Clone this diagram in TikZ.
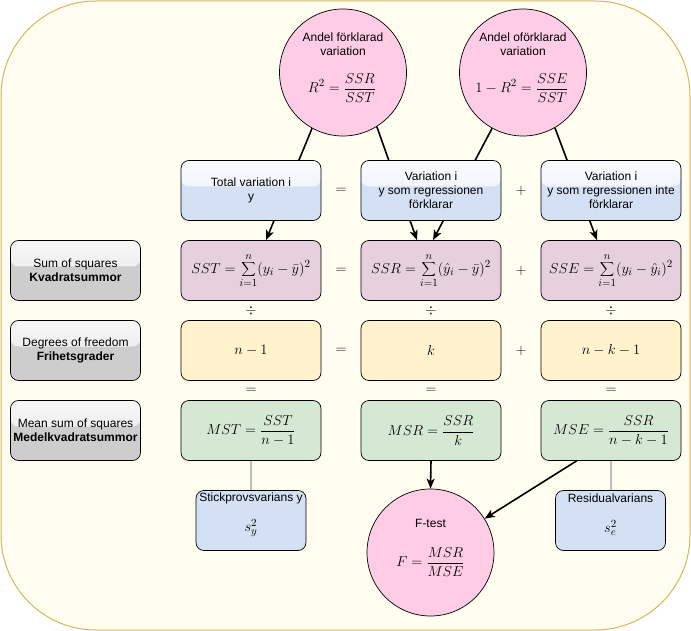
\documentclass[tikz,border=0pt]{standalone}
\usepackage{fontspec}
\setmainfont{Liberation Sans}
\usetikzlibrary{arrows.meta,calc}

\definecolor{bgfill}{HTML}{FFFDF0}
\definecolor{bgline}{HTML}{D6B656}
\definecolor{pinkfill}{HTML}{FFCCE6}
\definecolor{bluefill}{HTML}{D4E1F5}
\definecolor{purplefill}{HTML}{E6D0DE}
\definecolor{yellowfill}{HTML}{FFF2CC}
\definecolor{greenfill}{HTML}{D5E8D4}
\definecolor{greyfill}{HTML}{CDCDCD}
\definecolor{linkgrey}{HTML}{BDBDBD}
\definecolor{optext}{HTML}{111111}

\begin{document}
\begin{tikzpicture}[x=1pt,y=-1pt,
  txt/.style={font=\fontsize{12}{14}\selectfont, align=center, inner sep=0pt},
  mathtxt/.style={font=\fontsize{15}{18}\selectfont, inner sep=0pt},
  optxt/.style={font=\fontsize{14}{16}\selectfont, text=optext, inner sep=0pt},
  cell/.style={rectangle, rounded corners=8pt, draw=black, line width=0.7pt,
    minimum width=140pt, minimum height=60pt, inner sep=0pt, align=center},
  sumbox/.style={cell, fill=purplefill, font=\fontsize{15}{18}\selectfont},
  dfbox/.style={cell, fill=yellowfill, font=\fontsize{15}{18}\selectfont},
  meanbox/.style={cell, fill=greenfill, font=\fontsize{15}{18}\selectfont},
  glassbox/.style={cell, fill=#1, font=\fontsize{12}{14}\selectfont,
    path picture={\shade[top color=white!85!#1, bottom color=white!45!#1]
      (path picture bounding box.north west) rectangle
      ($(path picture bounding box.north east)+(0,-26pt)$);}},
  headbox/.style={glassbox=bluefill},
  rowlabel/.style={glassbox=greyfill, minimum width=130pt},
  smallbox/.style={cell, fill=bluefill, minimum width=110pt},
  circ/.style={circle, draw=black, line width=0.7pt, fill=pinkfill,
    minimum size=127pt, inner sep=0pt},
  arr/.style={line width=1.6pt, -{Stealth[length=10pt,width=8pt,inset=2.5pt]}},
  greylink/.style={line width=2pt, draw=linkgrey}
]
% canvas and rounded background panel
\useasboundingbox (0,0) rectangle (691,631);
\path[fill=bgfill, draw=bgline, line width=1pt, rounded corners=95pt]
  (1,1) rectangle (690,630);

% summary circles
\node[circ] (c1) at (343,72.5) {};
\node[circ] (c2) at (523,72.5) {};
\node[txt] (c1t) at (343,44) {Andel förklarad\\variation};
\node[mathtxt] (c1f) at (342,88) {$\displaystyle R^2=\frac{SSR}{SST}$};
\node[txt] (c2t) at (523,44) {Andel oförklarad\\variation};
\node[mathtxt] (c2f) at (522,88) {$\displaystyle 1-R^2=\frac{SSE}{SST}$};

% row labels
\node[rowlabel] (l1) at (75.5,270.5) {Sum of squares\\\textbf{Kvadratsummor}};
\node[rowlabel] (l2) at (75.5,350.5) {Degrees of freedom\\\textbf{Frihetsgrader}};
\node[rowlabel] (l3) at (75.5,430.5) {Mean sum of squares\\\textbf{Medelkvadratsummor}};

% sums of squares
\node[sumbox] (sst) at (251,270.5) {$\displaystyle SST=\sum_{i=1}^{n}(y_i-\bar{y})^2$};
\node[sumbox] (ssr) at (431,270.5) {$\displaystyle SSR=\sum_{i=1}^{n}(\hat{y}_i-\bar{y})^2$};
\node[sumbox] (sse) at (611,270.5) {$\displaystyle SSE=\sum_{i=1}^{n}(y_i-\hat{y}_i)^2$};

% degrees of freedom
\node[dfbox] (dft) at (251,350.5) {$n-1$};
\node[dfbox] (dfr) at (431,350.5) {$k$};
\node[dfbox] (dfe) at (611,350.5) {$n-k-1$};

% mean squares
\node[meanbox] (mst) at (251,430.5) {$\displaystyle MST=\frac{SST}{n-1}$};
\node[meanbox] (msr) at (431,430.5) {$\displaystyle MSR=\frac{SSR}{k}$};
\node[meanbox] (mse) at (611,430.5) {$\displaystyle MSE=\frac{SSR}{n-k-1}$};

% F-test and variance boxes
\node[circ] (cf) at (430.5,552.5) {};
\node[txt] (cft) at (430.5,523) {F-test};
\node[mathtxt] (cff) at (430.5,562) {$\displaystyle F=\frac{MSR}{MSE}$};

\node[smallbox] (sv) at (251,520.5) {};
\node[txt] (svt) at (251,498) {Stickprovsvarians y};
\node[mathtxt] (svf) at (251,528) {$s_y^2$};
\node[smallbox] (rv) at (610.5,520.5) {};
\node[txt] (rvt) at (610.5,498) {Residualvarians};
\node[mathtxt] (rvf) at (610.5,528) {$s_e^2$};

% connectors from the circles down to the sums of squares
\draw[arr] (c1.241) -- ($(sst.north)+(15,0)$);
\draw[arr] (c1.302) -- ($(ssr.north)+(-14,0)$);
\draw[arr] (c2.241) -- ($(ssr.north)+(2,0)$);
\draw[arr] (c2.300) -- ($(sse.north)+(-14,0)$);

% connectors into the F-test
\draw[arr] (msr.south) -- (cf.north);
\draw[arr] ($(mse.south west)+(36,0)$) -- (cf.32);

% grey links to the variance boxes
\draw[greylink] (mst.south) -- (sv.north);
\draw[greylink] ($(mse.south)+(-0.5,0)$) -- (rv.north);

% header boxes drawn over the connectors
\node[headbox] (h1) at (251,190.5) {Total variation i\\y};
\node[headbox] (h2) at (431,190.5) {Variation i\\y som regressionen\\förklarar};
\node[headbox] (h3) at (611,190.5) {Variation i\\y som regressionen inte\\förklarar};

% operators between the columns
\foreach \yy/\nm in {190.5/a,270.5/b,350.5/c}{
  \node[optxt] (eq\nm) at (341,\yy) {$=$};
  \node[optxt] (pl\nm) at (521,\yy) {$+$};
}
% operators between the rows
\foreach \xx/\nm in {251/a,431/b,611/c}{
  \node[optxt] (dv\nm) at (\xx,310.5) {$\div$};
  \node[optxt] (eqr\nm) at (\xx,390.5) {$=$};
}
\end{tikzpicture}
\end{document}
